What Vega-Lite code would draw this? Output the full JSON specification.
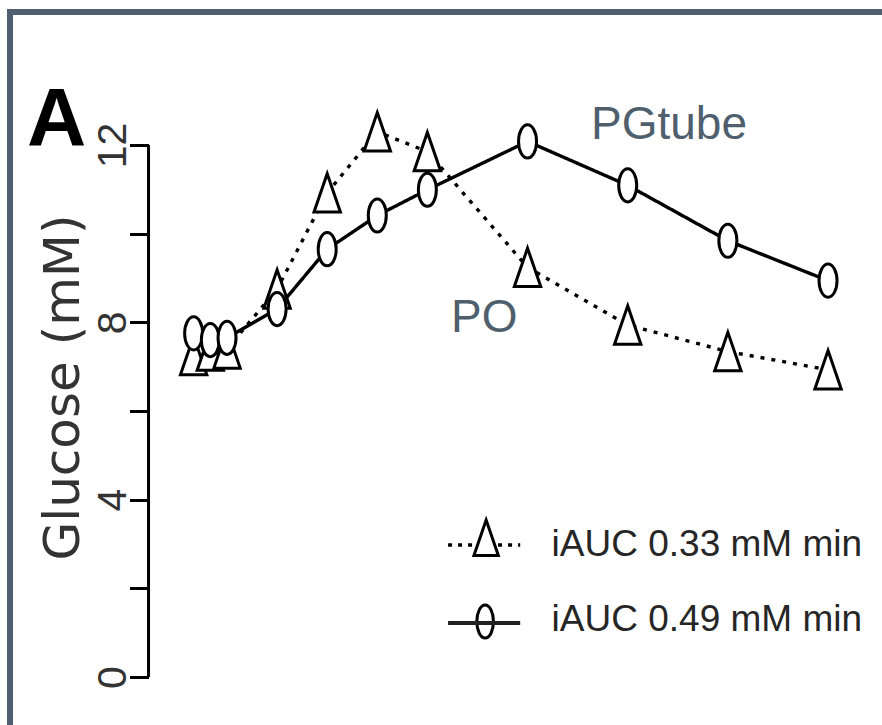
{
  "$schema": "https://vega.github.io/schema/vega-lite/v6.json",
  "autosize": {"type": "none"},
  "padding": {"left": 10, "top": 12, "right": 0, "bottom": 0},
  "width": 872,
  "height": 713,
  "background": "white",
  "title": {
    "text": "A",
    "anchor": "start",
    "frame": "group",
    "orient": "top",
    "offset": 0,
    "dx": 17,
    "dy": 219,
    "baseline": "alphabetic",
    "font": "Liberation Sans",
    "fontSize": 82,
    "fontWeight": "bold",
    "color": "black"
  },
  "datasets": {
    "glucose": [
      {"series": "PO", "time": -10, "glucose": 7.25},
      {"series": "PO", "time": -5, "glucose": 7.35},
      {"series": "PO", "time": 0, "glucose": 7.4},
      {"series": "PO", "time": 15, "glucose": 8.75},
      {"series": "PO", "time": 30, "glucose": 10.92},
      {"series": "PO", "time": 45, "glucose": 12.3},
      {"series": "PO", "time": 60, "glucose": 11.85},
      {"series": "PO", "time": 90, "glucose": 9.24},
      {"series": "PO", "time": 120, "glucose": 7.94},
      {"series": "PO", "time": 150, "glucose": 7.34},
      {"series": "PO", "time": 180, "glucose": 6.93},
      {"series": "PGtube", "time": -10, "glucose": 7.75},
      {"series": "PGtube", "time": -5, "glucose": 7.6},
      {"series": "PGtube", "time": 0, "glucose": 7.65},
      {"series": "PGtube", "time": 15, "glucose": 8.3},
      {"series": "PGtube", "time": 30, "glucose": 9.65},
      {"series": "PGtube", "time": 45, "glucose": 10.41},
      {"series": "PGtube", "time": 60, "glucose": 10.99},
      {"series": "PGtube", "time": 90, "glucose": 12.08},
      {"series": "PGtube", "time": 120, "glucose": 11.09},
      {"series": "PGtube", "time": 150, "glucose": 9.84},
      {"series": "PGtube", "time": 180, "glucose": 8.94}
    ],
    "labels": [
      {"label": "PGtube", "time": 109, "glucose": 12.14},
      {"label": "PO", "time": 67.1, "glucose": 7.78}
    ],
    "one": [{}]
  },
  "layer": [
    {
      "data": {"name": "glucose"},
      "mark": {"type": "line", "color": "black", "strokeWidth": 3.4},
      "encoding": {
        "x": {"field": "time", "type": "quantitative", "scale": {"domain": [-65, 196.16], "nice": false, "zero": false}, "axis": null},
        "y": {
          "field": "glucose",
          "type": "quantitative",
          "scale": {"domain": [-1.083, 15], "nice": false, "zero": false},
          "axis": {
            "title": "Glucose (mM)",
            "offset": -138.5,
            "domain": false,
            "grid": false,
            "values": [0, 2, 4, 6, 8, 10, 12],
            "tickSize": 19,
            "tickWidth": 3,
            "tickColor": "black",
            "labelExpr": "datum.value % 4 === 0 ? datum.label : ''",
            "labelAngle": 270,
            "labelAlign": "center",
            "labelBaseline": "alphabetic",
            "labelPadding": 4,
            "labelFont": "Liberation Sans",
            "labelFontSize": 41,
            "labelColor": "#333333",
            "labelOverlap": false,
            "labelFlush": false,
            "titleFont": "DejaVu Sans",
            "titleFontSize": 50,
            "titleFontWeight": "normal",
            "titleColor": "#333333",
            "titleAngle": 270,
            "titleAlign": "center",
            "titleBaseline": "alphabetic",
            "titleX": -70,
            "titleY": 375
          }
        },
        "strokeDash": {
          "field": "series",
          "type": "nominal",
          "scale": {"domain": ["PO", "PGtube"], "range": [[4, 7], [1, 0]]},
          "legend": null
        }
      }
    },
    {
      "data": {"name": "glucose"},
      "mark": {"type": "point", "filled": false, "fill": "white", "stroke": "black", "strokeWidth": 3, "size": 1600, "opacity": 1},
      "encoding": {
        "x": {"field": "time", "type": "quantitative"},
        "y": {"field": "glucose", "type": "quantitative"},
        "shape": {
          "field": "series",
          "type": "nominal",
          "scale": {
            "domain": ["PO", "PGtube"],
            "range": [
              "M0,-0.96L0.66,0.96L-0.66,0.96Z",
              "M0,-0.83C0.2485,-0.83 0.45,-0.4584 0.45,0C0.45,0.4584 0.2485,0.83 0,0.83C-0.2485,0.83 -0.45,0.4584 -0.45,0C-0.45,-0.4584 -0.2485,-0.83 0,-0.83Z"
            ]
          },
          "legend": null
        }
      }
    },
    {
      "data": {"name": "labels"},
      "mark": {"type": "text", "align": "left", "baseline": "alphabetic", "font": "Liberation Sans", "fontSize": 46, "color": "#4f5f6e"},
      "encoding": {
        "x": {"field": "time", "type": "quantitative"},
        "y": {"field": "glucose", "type": "quantitative"},
        "text": {"field": "label", "type": "nominal"}
      }
    },
    {
      "data": {"name": "one"},
      "mark": {"type": "rule", "color": "black", "strokeWidth": 3.5, "strokeDash": [4, 6]},
      "encoding": {
        "x": {"datum": 66.2, "type": "quantitative"},
        "x2": {"datum": 87.8},
        "y": {"datum": 2.98, "type": "quantitative"}
      }
    },
    {
      "data": {"name": "one"},
      "mark": {"type": "point", "filled": false, "fill": "white", "stroke": "black", "strokeWidth": 3, "size": 1369, "opacity": 1, "shape": "M0,-0.96L0.66,0.96L-0.66,0.96Z"},
      "encoding": {
        "x": {"datum": 77.6, "type": "quantitative"},
        "y": {"datum": 3.14, "type": "quantitative"}
      }
    },
    {
      "data": {"name": "one"},
      "mark": {"type": "point", "filled": false, "fill": "white", "stroke": "black", "strokeWidth": 3, "size": 1369, "opacity": 1, "shape": "M0,-0.89C0.2485,-0.89 0.45,-0.4915 0.45,0C0.45,0.4915 0.2485,0.89 0,0.89C-0.2485,0.89 -0.45,0.4915 -0.45,0C-0.45,-0.4915 -0.2485,-0.89 0,-0.89Z"},
      "encoding": {
        "x": {"datum": 77.3, "type": "quantitative"},
        "y": {"datum": 1.25, "type": "quantitative"}
      }
    },
    {
      "data": {"name": "one"},
      "mark": {"type": "rule", "color": "#222222", "strokeWidth": 4},
      "encoding": {
        "x": {"datum": 66.2, "type": "quantitative"},
        "x2": {"datum": 87.8},
        "y": {"datum": 1.22, "type": "quantitative"}
      }
    },
    {
      "data": {"name": "one"},
      "mark": {"type": "text", "text": "iAUC 0.33 mM min", "align": "left", "baseline": "middle", "font": "Liberation Sans", "fontSize": 37, "color": "#262626"},
      "encoding": {
        "x": {"datum": 97.2, "type": "quantitative"},
        "y": {"datum": 2.98, "type": "quantitative"}
      }
    },
    {
      "data": {"name": "one"},
      "mark": {"type": "text", "text": "iAUC 0.49 mM min", "align": "left", "baseline": "middle", "font": "Liberation Sans", "fontSize": 37, "color": "#262626"},
      "encoding": {
        "x": {"datum": 97.2, "type": "quantitative"},
        "y": {"datum": 1.29, "type": "quantitative"}
      }
    },
    {
      "data": {"name": "one"},
      "mark": {"type": "rule", "color": "black", "strokeWidth": 3},
      "encoding": {
        "x": {"datum": -23.51, "type": "quantitative"},
        "y": {"datum": 0, "type": "quantitative"},
        "y2": {"datum": 12}
      }
    },
    {
      "data": {"name": "one"},
      "mark": {"type": "rule", "color": "#4f5f6f", "strokeWidth": 6, "strokeCap": "square"},
      "encoding": {
        "y": {"datum": 15, "type": "quantitative"}
      }
    },
    {
      "data": {"name": "one"},
      "mark": {"type": "rule", "color": "#4f5f6f", "strokeWidth": 6, "strokeCap": "square"},
      "encoding": {
        "x": {"datum": -65, "type": "quantitative"}
      }
    }
  ],
  "config": {"view": {"stroke": null}}
}
